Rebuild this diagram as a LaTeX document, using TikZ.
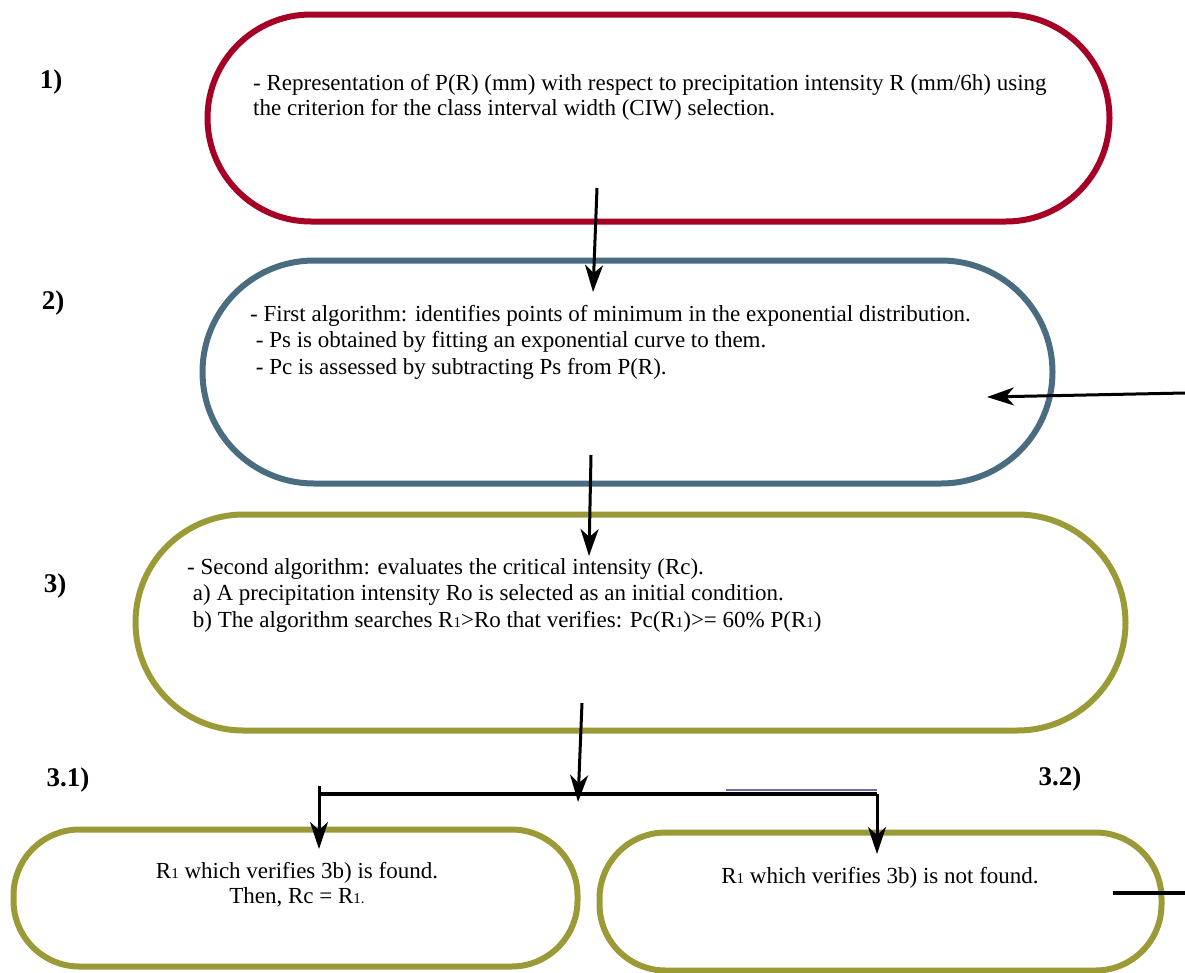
\documentclass[tikz,border=0pt]{standalone}
\usepackage{fontspec}
\setmainfont{Liberation Serif}
\usetikzlibrary{shapes.misc, arrows.meta, positioning}

\definecolor{boxred}{RGB}{166,0,36}
\definecolor{boxblue}{RGB}{74,108,128}
\definecolor{boxolive}{RGB}{154,154,54}
\definecolor{tickblue}{RGB}{110,110,170}

\newcommand{\sm}[1]{{\fontsize{15}{15}\selectfont #1}}

\tikzset{
  stadium/.style={rounded rectangle, line width=6pt, inner sep=0pt},
  softbox/.style={rectangle, rounded corners=66pt, line width=6pt, inner sep=0pt},
  boxtext/.style={inner sep=0pt, align=left, anchor=north west,
    font=\fontsize{23}{26.5}\selectfont},
  steplabel/.style={inner sep=0pt, font=\fontsize{27}{27}\selectfont\bfseries},
  flow/.style={line width=3pt, -{Stealth[length=27pt,width=18pt,inset=8pt]}},
  bar/.style={line width=4pt}
}

\begin{document}
\begin{tikzpicture}[x=1pt, y=-1pt]
  \useasboundingbox (0,0) rectangle (1185,972);

  % boxes
  \node[stadium, draw=boxred, minimum width=902pt, minimum height=207pt] (sel) at (658.5,118) {};
  \node[stadium, draw=boxblue, minimum width=850pt, minimum height=223pt] (alg1) at (627.5,372) {};
  \node[stadium, draw=boxolive, minimum width=990pt, minimum height=216pt] (alg2) at (630.5,622.5) {};
  \node[softbox, draw=boxolive, minimum width=564pt, minimum height=137pt] (found) at (295.5,898) {};
  \node[softbox, draw=boxolive, minimum width=562pt, minimum height=138pt] (notfound) at (880.5,901.5) {};

  % texts
  \node[boxtext, font=\fontsize{23}{25}\selectfont] (seltext) at (253,74) {- Representation of P(R) (mm) with respect to precipitation intensity R (mm/6h) using\\
    the criterion for the class interval width (CIW) selection.};
  \node[boxtext] (alg1text) at (250,305) {- First algorithm: identifies points of minimum in the exponential distribution.\\
    \ - Ps is obtained by fitting an exponential curve to them.\\
    \ - Pc is assessed by subtracting Ps from P(R).};
  \node[boxtext] (alg2text) at (187,558) {- Second algorithm: evaluates the critical intensity (Rc).\\
    \ a) A precipitation intensity Ro is selected as an initial condition.\\
    \ b) The algorithm searches R\sm{1}>Ro that verifies: Pc(R\sm{1})>= 60\% P(R\sm{1})};
  \node[boxtext, anchor=north, align=center, font=\fontsize{23}{25}\selectfont] (foundtext) at (297,862) {R\sm{1} which verifies 3b) is found.\\
    Then, Rc = R\sm{1.}};
  \node[boxtext, anchor=north, align=center] (notfoundtext) at (880,867) {R\sm{1} which verifies 3b) is not found.};

  % step labels
  \node[steplabel] (l1) at (51,82) {1)};
  \node[steplabel] (l2) at (53,303) {2)};
  \node[steplabel] (l3) at (55,586) {3)};
  \node[steplabel] (l31) at (68,780) {3.1)};
  \node[steplabel] (l32) at (1060,779) {3.2)};

  % connectors
  \coordinate (a1s) at (597,188);
  \coordinate (a1e) at (593,292);
  \coordinate (a2s) at (591,455);
  \coordinate (a2e) at (589,556);
  \coordinate (a3s) at (582,703);
  \coordinate (a3e) at (578,802);
  \coordinate (bl) at (319,794);
  \coordinate (br) at (877,794);
  \coordinate (ble) at (319,849);
  \coordinate (bre) at (877,854);
  \coordinate (tks) at (726,790);
  \coordinate (tke) at (877,790);
  \coordinate (ins) at (1185,393);
  \coordinate (ine) at (987,397);
  \coordinate (outs) at (1113,893);
  \coordinate (oute) at (1185,893);

  \draw[flow] (a1s) -- (a1e);
  \draw[flow] (a2s) -- (a2e);
  \draw[tickblue, line width=1.5pt] (tks) -- (tke);
  \draw[bar] (bl) -- (br);
  \draw[flow] (a3s) -- (a3e);
  \draw[flow] (319,786) -- (ble);
  \draw[flow] (br) -- (bre);
  \draw[flow] (ins) -- (ine);
  \draw[bar] (outs) -- (oute);
\end{tikzpicture}
\end{document}
